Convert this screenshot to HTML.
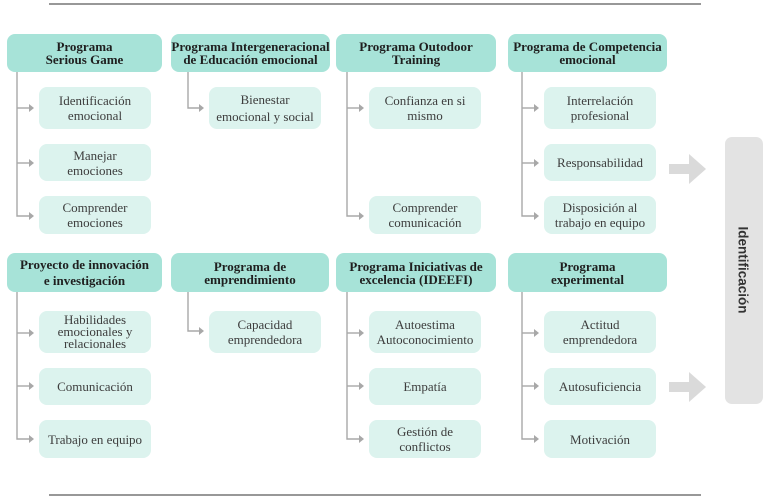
<!DOCTYPE html>
<html><head><meta charset="utf-8"><style>
html,body{margin:0;padding:0;background:#fff;}
#c{position:relative;width:769px;height:501px;overflow:hidden;background:#fff;}
.h,.k{position:absolute;display:flex;align-items:center;justify-content:center;text-align:center;box-sizing:border-box;}
.h{background:#a7e3d8;border-radius:8px;font-family:"Liberation Serif",serif;font-weight:bold;font-size:13px;line-height:13px;color:#1f1f1f;}
.k{background:#dcf3ee;border-radius:8px;font-family:"Liberation Serif",serif;font-size:13px;line-height:15px;color:#3d3d3d;width:112px;}
svg{position:absolute;left:0;top:0;}
</style></head><body><div id="c">
<svg width="769" height="501" viewBox="0 0 769 501">
<line x1="49" y1="4" x2="701" y2="4" stroke="#5a5a5a" stroke-width="1.3"/>
<line x1="49" y1="495" x2="701" y2="495" stroke="#5a5a5a" stroke-width="1.3"/>
<g stroke="#a8a8a8" stroke-width="1.4" fill="none">
<!-- row1 -->
<polyline points="17,72 17,216 29,216"/><line x1="17" y1="108" x2="29" y2="108"/><line x1="17" y1="163" x2="29" y2="163"/>
<polyline points="188,72 188,108 199,108"/>
<polyline points="347,72 347,216 359,216"/><line x1="347" y1="108" x2="359" y2="108"/>
<polyline points="522,72 522,216 534,216"/><line x1="522" y1="108" x2="534" y2="108"/><line x1="522" y1="163" x2="534" y2="163"/>
<!-- row2 -->
<polyline points="17,292 17,439 29,439"/><line x1="17" y1="333" x2="29" y2="333"/><line x1="17" y1="386" x2="29" y2="386"/>
<polyline points="188,292 188,331 199,331"/>
<polyline points="347,292 347,439 359,439"/><line x1="347" y1="333" x2="359" y2="333"/><line x1="347" y1="386" x2="359" y2="386"/>
<polyline points="522,292 522,439 534,439"/><line x1="522" y1="333" x2="534" y2="333"/><line x1="522" y1="386" x2="534" y2="386"/>
</g>
<g fill="#a8a8a8">
<polygon points="29,104 34,108 29,112"/><polygon points="29,159 34,163 29,167"/><polygon points="29,212 34,216 29,220"/>
<polygon points="199,104 204,108 199,112"/>
<polygon points="359,104 364,108 359,112"/><polygon points="359,212 364,216 359,220"/>
<polygon points="534,104 539,108 534,112"/><polygon points="534,159 539,163 534,167"/><polygon points="534,212 539,216 534,220"/>
<polygon points="29,329 34,333 29,337"/><polygon points="29,382 34,386 29,390"/><polygon points="29,435 34,439 29,443"/>
<polygon points="199,327 204,331 199,335"/>
<polygon points="359,329 364,333 359,337"/><polygon points="359,382 364,386 359,390"/><polygon points="359,435 364,439 359,443"/>
<polygon points="534,329 539,333 534,337"/><polygon points="534,382 539,386 534,390"/><polygon points="534,435 539,439 534,443"/>
</g>
<g fill="#dadada">
<rect x="669" y="164" width="21" height="10"/><polygon points="689,154 706,169 689,184"/>
<rect x="669" y="382" width="21" height="10"/><polygon points="689,372 706,387 689,402"/>
</g>
<rect x="725" y="137" width="38" height="267" rx="7" fill="#e3e3e3"/>
<text x="743" y="270" transform="rotate(90 743 270)" text-anchor="middle" dominant-baseline="central" font-family="Liberation Sans, sans-serif" font-weight="bold" font-size="13.5" fill="#333">Identificación</text>
</svg>

<div class="h" style="left:7px;top:34px;width:155px;height:38px;">Programa<br>Serious Game</div>
<div class="h" style="left:171px;top:34px;width:159px;height:38px;">Programa Intergeneracional<br>de Educación emocional</div>
<div class="h" style="left:336px;top:34px;width:160px;height:38px;">Programa Outodoor<br>Training</div>
<div class="h" style="left:508px;top:34px;width:159px;height:38px;">Programa de Competencia<br>emocional</div>

<div class="h" style="left:7px;top:253px;width:155px;height:39px;line-height:16px;">Proyecto de innovación<br>e investigación</div>
<div class="h" style="left:171px;top:253px;width:158px;height:39px;">Programa de<br>emprendimiento</div>
<div class="h" style="left:336px;top:253px;width:160px;height:39px;">Programa Iniciativas de<br>excelencia (IDEEFI)</div>
<div class="h" style="left:508px;top:253px;width:159px;height:39px;">Programa<br>experimental</div>

<div class="k" style="left:39px;top:87px;height:42px;">Identificación<br>emocional</div>
<div class="k" style="left:39px;top:144px;height:37px;">Manejar<br>emociones</div>
<div class="k" style="left:39px;top:196px;height:38px;">Comprender<br>emociones</div>
<div class="k" style="left:209px;top:87px;height:42px;line-height:17px;">Bienestar<br>emocional y social</div>
<div class="k" style="left:369px;top:87px;height:42px;">Confianza en si<br>mismo</div>
<div class="k" style="left:369px;top:196px;height:38px;">Comprender<br>comunicación</div>
<div class="k" style="left:544px;top:87px;height:42px;">Interrelación<br>profesional</div>
<div class="k" style="left:544px;top:144px;height:37px;">Responsabilidad</div>
<div class="k" style="left:544px;top:196px;height:38px;">Disposición al<br>trabajo en equipo</div>

<div class="k" style="left:39px;top:311px;height:42px;line-height:12px;">Habilidades<br>emocionales y<br>relacionales</div>
<div class="k" style="left:39px;top:368px;height:37px;">Comunicación</div>
<div class="k" style="left:39px;top:420px;height:38px;">Trabajo en equipo</div>
<div class="k" style="left:209px;top:311px;height:42px;">Capacidad<br>emprendedora</div>
<div class="k" style="left:369px;top:311px;height:42px;">Autoestima<br>Autoconocimiento</div>
<div class="k" style="left:369px;top:368px;height:37px;">Empatía</div>
<div class="k" style="left:369px;top:420px;height:38px;">Gestión de<br>conflictos</div>
<div class="k" style="left:544px;top:311px;height:42px;">Actitud<br>emprendedora</div>
<div class="k" style="left:544px;top:368px;height:37px;">Autosuficiencia</div>
<div class="k" style="left:544px;top:420px;height:38px;">Motivación</div>
</div></body></html>
